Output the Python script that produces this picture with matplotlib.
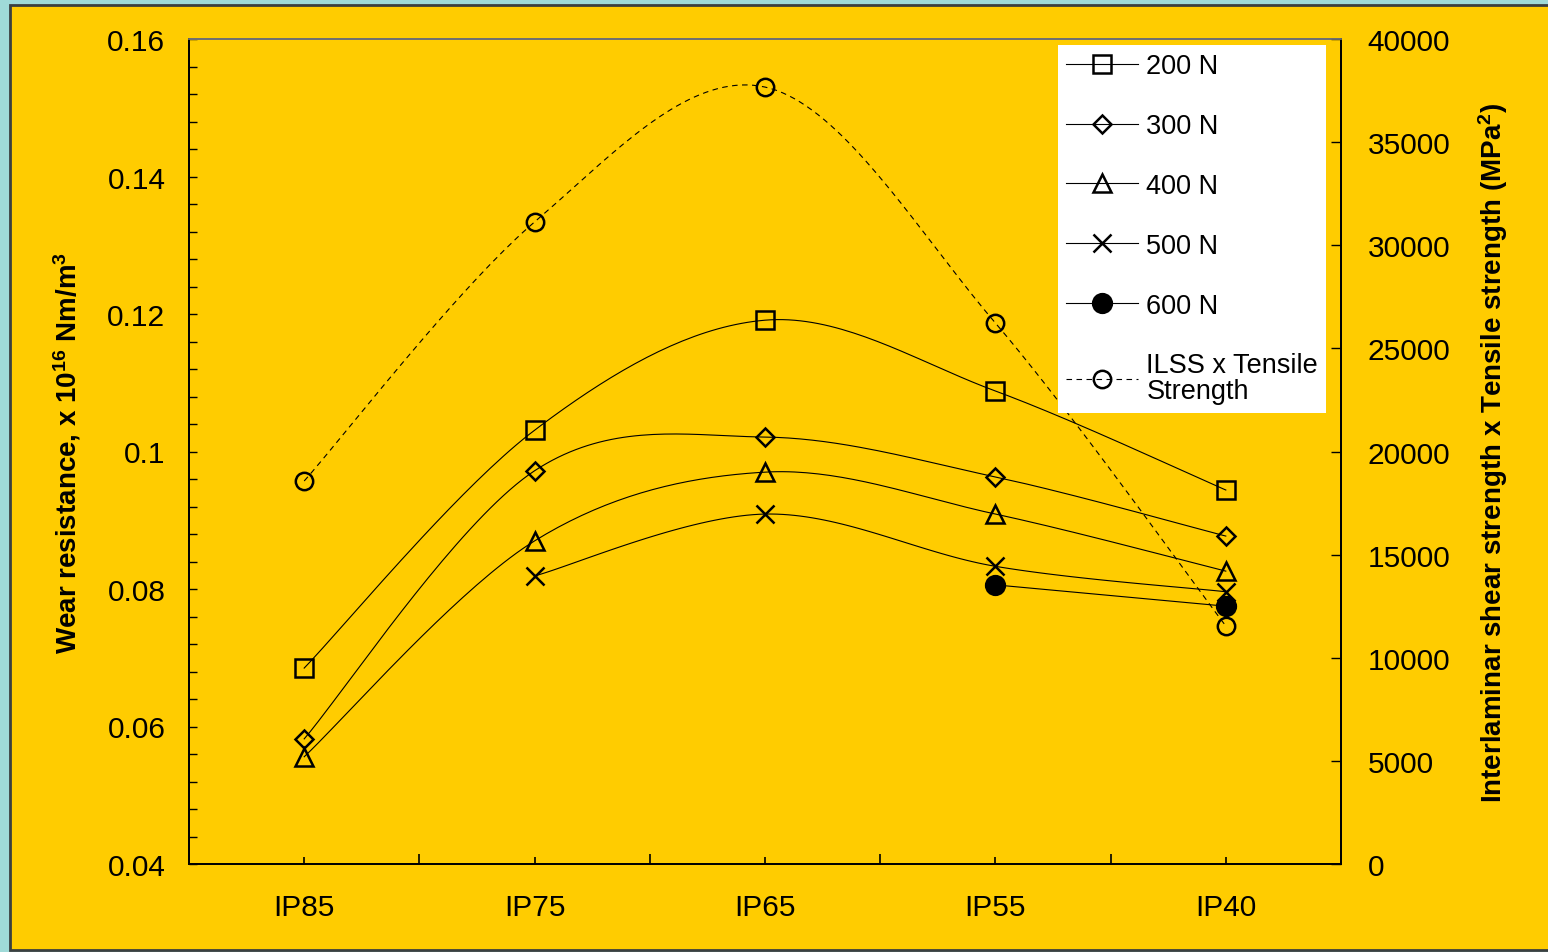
import numpy as np
import matplotlib
matplotlib.use("Agg")
import matplotlib.pyplot as plt
from matplotlib.patches import Rectangle
from matplotlib.lines import Line2D
from matplotlib.ticker import MultipleLocator, FuncFormatter, FixedLocator

# ---------------- data ----------------
categories = ["IP85", "IP75", "IP65", "IP55", "IP40"]
wear_200 = [0.0685, 0.1031, 0.1191, 0.1088, 0.0944]
wear_300 = [0.0582, 0.0972, 0.1021, 0.0963, 0.0877]
wear_400 = [0.0556, 0.0870, 0.0970, 0.0909, 0.0826]
wear_500 = [None, 0.0819, 0.0909, 0.0833, 0.0796]
wear_600 = [None, None, None, 0.0806, 0.0775]
ilss_tensile = [18570, 31130, 37670, 26230, 11540]

series_labels = ["200 N", "300 N", "400 N", "500 N", "600 N"]
ilss_label = "ILSS x Tensile\nStrength"
left_label = r"Wear resistance, x 10$^{\mathbf{16}}$ Nm/m$^{\mathbf{3}}$"
right_label = r"Interlaminar shear strength x Tensile strength (MPa$^{\mathbf{2}}$)"

# ---------------- style ----------------
plt.rcParams["font.family"] = ["Liberation Sans", "DejaVu Sans"]
plt.rcParams["mathtext.fontset"] = "custom"
plt.rcParams["mathtext.rm"] = "Liberation Sans"
plt.rcParams["mathtext.bf"] = "Liberation Sans:bold"
plt.rcParams["mathtext.default"] = "bf"

YELLOW = "#FFCC00"
TEAL = "#9FDAD8"

W, H = 1548, 953
fig = plt.figure(figsize=(W / 100, H / 100), dpi=100, facecolor=TEAL)
bg = Rectangle((10 / W, 2 / H), (W + 20) / W, (H - 8) / H,
               transform=fig.transFigure, facecolor=YELLOW,
               edgecolor="#3a3f3f", linewidth=2, zorder=-10)
fig.patches.append(bg)

ax = fig.add_axes([189 / W, (H - 865) / H, (1341 - 189) / W, (865 - 40) / H])
ax.patch.set_visible(False)
ax2 = ax.twinx()
ax2.patch.set_visible(False)


def smooth(xs, ys, n=40):
    """Excel-like smoothed line through the given points (cubic Bezier, Catmull-Rom tangents)."""
    xs = np.asarray(xs, float)
    ys = np.asarray(ys, float)
    pts = np.column_stack([xs, ys])
    if len(pts) < 3:
        return xs, ys
    ext = np.vstack([pts[0], pts, pts[-1]])
    out = []
    for i in range(1, len(ext) - 2):
        p0, p1, p2, p3 = ext[i - 1], ext[i], ext[i + 1], ext[i + 2]
        c1 = p1 + (p2 - p0) / 6.0
        c2 = p2 - (p3 - p1) / 6.0
        t = np.linspace(0, 1, n)[:, None]
        seg = ((1 - t) ** 3) * p1 + 3 * ((1 - t) ** 2) * t * c1 + 3 * (1 - t) * t ** 2 * c2 + t ** 3 * p2
        out.append(seg if i == 1 else seg[1:])
    out = np.vstack(out)
    return out[:, 0], out[:, 1]


x_pos = np.arange(len(categories))
specs = [
    (wear_200, dict(marker="s", markersize=12.5)),
    (wear_300, dict(marker="D", markersize=9)),
    (wear_400, dict(marker="^", markersize=13)),
    (wear_500, dict(marker="x", markersize=13.5)),
    (wear_600, dict(marker="o", markersize=13.5, markerfacecolor="black")),
]

handles = []
for (vals, mk), lab in zip(specs, series_labels):
    xs = [x for x, v in zip(x_pos, vals) if v is not None]
    ys = [v for v in vals if v is not None]
    sx, sy = smooth(xs, ys)
    ax.plot(sx, sy, color="black", linewidth=0.8, zorder=3)
    kw = dict(markerfacecolor="none", markeredgecolor="black", markeredgewidth=1.8)
    kw.update(mk)
    ax.plot(xs, ys, linestyle="none", zorder=2, **kw)
    handles.append(Line2D([], [], color="black", linewidth=0.8, **kw))

sx, sy = smooth(x_pos, ilss_tensile)
ax2.plot(sx, sy, color="black", linewidth=0.8, linestyle=(0, (5, 4)), zorder=3)
ckw = dict(marker="o", markersize=12.5, markerfacecolor="none",
           markeredgecolor="black", markeredgewidth=1.8)
ax2.plot(x_pos, ilss_tensile, linestyle="none", zorder=2, **ckw)
handles.append(Line2D([], [], color="black", linewidth=0.8, linestyle=(0, (5, 4)), **ckw))

# ---------------- axes ----------------
ax.set_xlim(-0.5, 4.5)
ax.set_ylim(0.04, 0.16)
ax2.set_ylim(0, 40000)

TICK_FS = 21.5
ax.xaxis.set_major_locator(FixedLocator([0.5, 1.5, 2.5, 3.5]))
ax.xaxis.set_minor_locator(FixedLocator(list(x_pos)))
ax.set_xticklabels([])
ax.set_xticklabels(categories, minor=True)
ax.tick_params(axis="x", which="major", direction="in", length=7, width=1.2, labelbottom=False)
ax.tick_params(axis="x", which="minor", direction="in", length=5, width=1.2, pad=21,
               labelsize=TICK_FS)

ax.yaxis.set_major_locator(MultipleLocator(0.02))
ax.yaxis.set_minor_locator(MultipleLocator(0.004))
ax.yaxis.set_major_formatter(FuncFormatter(lambda v, p: f"{v:g}"))
ax.tick_params(axis="y", which="both", direction="in", length=6, width=1.0, pad=17,
               labelsize=TICK_FS)

ax2.yaxis.set_major_locator(MultipleLocator(5000))
ax2.tick_params(axis="y", direction="in", length=7, width=1.0, pad=19, labelsize=TICK_FS)

for a in (ax, ax2):
    for s in a.spines.values():
        s.set_color("black")
        s.set_linewidth(1.3)
    a.spines["top"].set_color("#707070")

ax.set_ylabel(left_label, fontsize=20, fontweight="bold")
ax2.set_ylabel(right_label, fontsize=20, fontweight="bold")
ax.yaxis.set_label_coords(-(189 - 83) / 1152, 0.5)
ax2.yaxis.set_label_coords((1476 - 189) / 1152, 0.5)

LEG_FS = 19.5
leg = ax2.legend(handles, series_labels + [ilss_label], loc="upper left",
                 bbox_to_anchor=((1058 - 189) / 1152, (865 - 46) / 825),
                 borderaxespad=0, frameon=True, fancybox=False, fontsize=LEG_FS,
                 handlelength=2.66, handletextpad=0.3, labelspacing=1.25,
                 borderpad=0.3, framealpha=1)
for t in leg.get_texts():
    t.set_linespacing(1.0)
leg.get_frame().set_facecolor("white")
leg.get_frame().set_edgecolor("white")
leg.get_frame().set_linewidth(0)
leg.set_zorder(10)

fig.savefig("out.png", dpi=100, facecolor=fig.get_facecolor())
